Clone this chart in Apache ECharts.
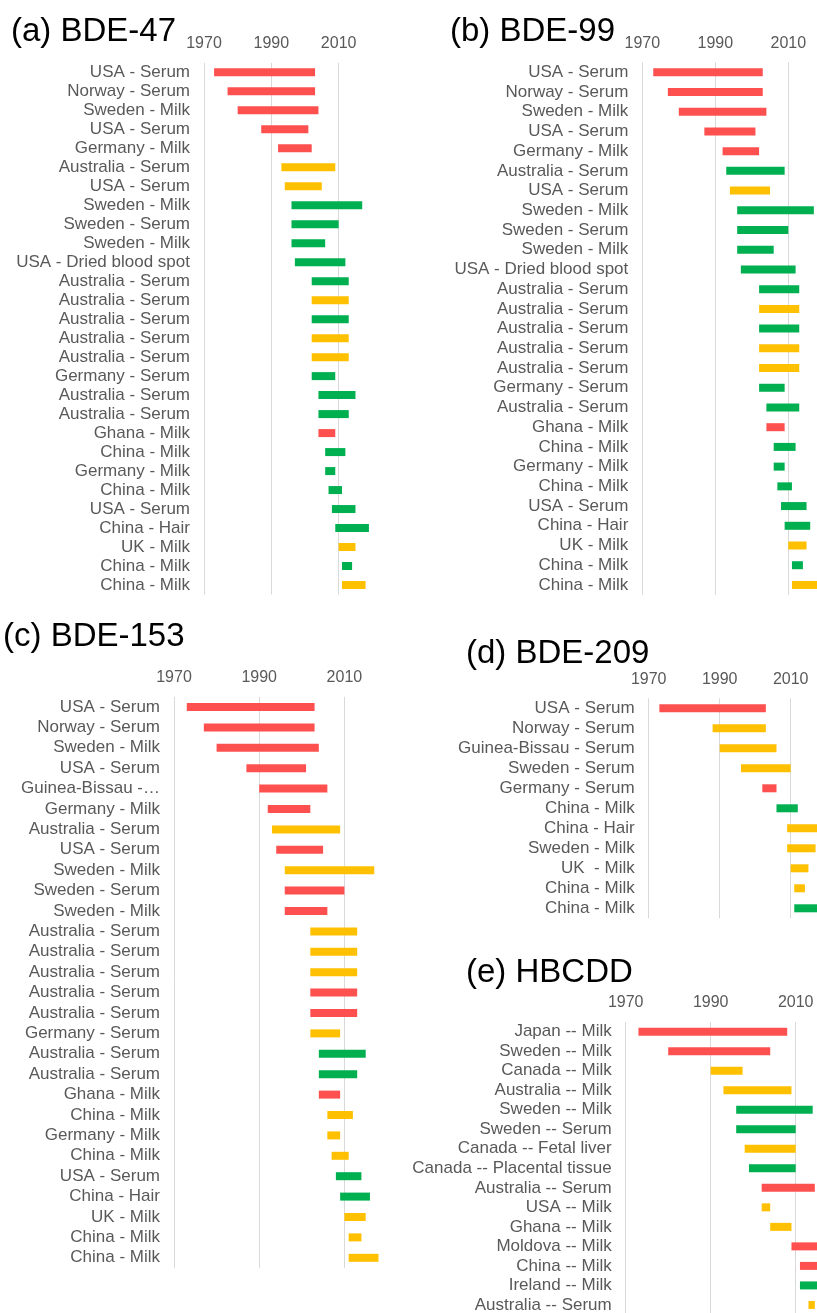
<!DOCTYPE html>
<html>
<head>
<meta charset="utf-8">
<script src="https://cdn.jsdelivr.net/npm/echarts@6/dist/echarts.min.js"></script>
<style>
  html, body { margin: 0; padding: 0; background: #fff; }
  #chart { width: 817px; height: 1313px; }
</style>
</head>
<body>
<div id="chart"></div>
<script>
// panel titles
const titles = ['(a) BDE-47', '(b) BDE-99', '(c) BDE-153', '(d) BDE-209', '(e) HBCDD'];
const yearTicks = [1970, 1990, 2010];

// (a) BDE-47
const aLabels = ['USA - Serum', 'Norway - Serum', 'Sweden - Milk', 'USA - Serum', 'Germany - Milk',
  'Australia - Serum', 'USA - Serum', 'Sweden - Milk', 'Sweden - Serum', 'Sweden - Milk',
  'USA - Dried blood spot', 'Australia - Serum', 'Australia - Serum', 'Australia - Serum',
  'Australia - Serum', 'Australia - Serum', 'Germany - Serum', 'Australia - Serum', 'Australia - Serum',
  'Ghana - Milk', 'China - Milk', 'Germany - Milk', 'China - Milk', 'USA - Serum', 'China - Hair',
  'UK - Milk', 'China - Milk', 'China - Milk'];
const aStart = [1973, 1977, 1980, 1987, 1992, 1993, 1994, 1996, 1996, 1996, 1997, 2002, 2002, 2002,
  2002, 2002, 2002, 2004, 2004, 2004, 2006, 2006, 2007, 2008, 2009, 2010, 2011, 2011];
const aEnd = [2003, 2003, 2004, 2001, 2002, 2009, 2005, 2017, 2010, 2006, 2012, 2013, 2013, 2013,
  2013, 2013, 2009, 2015, 2013, 2009, 2012, 2009, 2011, 2015, 2019, 2015, 2014, 2018];
const aColor = ['r', 'r', 'r', 'r', 'r', 'y', 'y', 'g', 'g', 'g', 'g', 'g', 'y', 'g',
  'y', 'y', 'g', 'g', 'g', 'r', 'g', 'g', 'g', 'g', 'g', 'y', 'g', 'y'];

// (b) BDE-99
const bLabels = ['USA - Serum', 'Norway - Serum', 'Sweden - Milk', 'USA - Serum', 'Germany - Milk',
  'Australia - Serum', 'USA - Serum', 'Sweden - Milk', 'Sweden - Serum', 'Sweden - Milk',
  'USA - Dried blood spot', 'Australia - Serum', 'Australia - Serum', 'Australia - Serum',
  'Australia - Serum', 'Australia - Serum', 'Germany - Serum', 'Australia - Serum', 'Ghana - Milk',
  'China - Milk', 'Germany - Milk', 'China - Milk', 'USA - Serum', 'China - Hair', 'UK - Milk',
  'China - Milk', 'China - Milk'];
const bStart = [1973, 1977, 1980, 1987, 1992, 1993, 1994, 1996, 1996, 1996, 1997, 2002, 2002, 2002,
  2002, 2002, 2002, 2004, 2004, 2006, 2006, 2007, 2008, 2009, 2010, 2011, 2011];
const bEnd = [2003, 2003, 2004, 2001, 2002, 2009, 2005, 2017, 2010, 2006, 2012, 2013, 2013, 2013,
  2013, 2013, 2009, 2013, 2009, 2012, 2009, 2011, 2015, 2016, 2015, 2014, 2018];
const bColor = ['r', 'r', 'r', 'r', 'r', 'g', 'y', 'g', 'g', 'g', 'g', 'g', 'y', 'g',
  'y', 'y', 'g', 'g', 'r', 'g', 'g', 'g', 'g', 'g', 'y', 'g', 'y'];

// (c) BDE-153
const cLabels = ['USA - Serum', 'Norway - Serum', 'Sweden - Milk', 'USA - Serum', 'Guinea-Bissau - Serum',
  'Germany - Milk', 'Australia - Serum', 'USA - Serum', 'Sweden - Milk', 'Sweden - Serum', 'Sweden - Milk',
  'Australia - Serum', 'Australia - Serum', 'Australia - Serum', 'Australia - Serum', 'Australia - Serum',
  'Germany - Serum', 'Australia - Serum', 'Australia - Serum', 'Ghana - Milk', 'China - Milk',
  'Germany - Milk', 'China - Milk', 'USA - Serum', 'China - Hair', 'UK - Milk', 'China - Milk', 'China - Milk'];
const cStart = [1973, 1977, 1980, 1987, 1990, 1992, 1993, 1994, 1996, 1996, 1996, 2002, 2002, 2002,
  2002, 2002, 2002, 2004, 2004, 2004, 2006, 2006, 2007, 2008, 2009, 2010, 2011, 2011];
const cEnd = [2003, 2003, 2004, 2001, 2006, 2002, 2009, 2005, 2017, 2010, 2006, 2013, 2013, 2013,
  2013, 2013, 2009, 2015, 2013, 2009, 2012, 2009, 2011, 2014, 2016, 2015, 2014, 2018];
const cColor = ['r', 'r', 'r', 'r', 'r', 'r', 'y', 'r', 'y', 'r', 'r', 'y', 'y', 'y',
  'r', 'r', 'y', 'g', 'g', 'r', 'y', 'y', 'y', 'g', 'g', 'y', 'y', 'y'];

// (d) BDE-209
const dLabels = ['USA - Serum', 'Norway - Serum', 'Guinea-Bissau - Serum', 'Sweden - Serum',
  'Germany - Serum', 'China - Milk', 'China - Hair', 'Sweden - Milk', 'UK  - Milk', 'China - Milk', 'China - Milk'];
const dStart = [1973, 1988, 1990, 1996, 2002, 2006, 2009, 2009, 2010, 2011, 2011];
const dEnd = [2003, 2003, 2006, 2010, 2006, 2012, 2018, 2017, 2015, 2014, 2018];
const dColor = ['r', 'y', 'y', 'y', 'r', 'g', 'y', 'y', 'y', 'y', 'g'];

// (e) HBCDD
const eLabels = ['Japan -- Milk', 'Sweden -- Milk', 'Canada -- Milk', 'Australia -- Milk', 'Sweden -- Milk',
  'Sweden -- Serum', 'Canada -- Fetal liver', 'Canada -- Placental tissue', 'Australia -- Serum',
  'USA -- Milk', 'Ghana -- Milk', 'Moldova -- Milk', 'China -- Milk', 'Ireland -- Milk', 'Australia -- Serum'];
const eStart = [1973, 1980, 1990, 1993, 1996, 1996, 1998, 1999, 2002, 2002, 2004, 2009, 2011, 2011, 2013];
const eEnd = [2008, 2004, 1997.5, 2009, 2014, 2010, 2010, 2010, 2014.5, 2004, 2009, 2016, 2016, 2016, 2014.5];
const eColor = ['r', 'r', 'y', 'y', 'g', 'g', 'y', 'g', 'r', 'y', 'y', 'r', 'r', 'g', 'y'];

const COLORS = { r: '#FF5050', y: '#FFC000', g: '#00B050' };
const FONT = 'Liberation Sans, Arial, sans-serif';

const panels = [
  { labels: aLabels, start: aStart, end: aEnd, color: aColor },
  { labels: bLabels, start: bStart, end: bEnd, color: bColor },
  { labels: cLabels, start: cStart, end: cEnd, color: cColor },
  { labels: dLabels, start: dStart, end: dEnd, color: dColor },
  { labels: eLabels, start: eStart, end: eEnd, color: eColor }
];

// plot areas (pixels) and title anchors
const layout = [
  { left: 204, top: 62.8, width: 168.3, height: 531.7, tx: 11, ty: 32 },
  { left: 642.3, top: 62.4, width: 182.5, height: 532.4, tx: 450, ty: 31.5 },
  { left: 174, top: 696.8, width: 213, height: 571.2, tx: 3, ty: 637 },
  { left: 648.7, top: 698.3, width: 177.5, height: 220, tx: 466, ty: 654 },
  { left: 625.7, top: 1021.9, width: 212.5, height: 292.8, tx: 466, ty: 972.5 }
];

const grid = [], xAxis = [], yAxis = [], series = [];
panels.forEach((p, i) => {
  const g = layout[i];
  grid.push({ left: g.left, top: g.top, width: g.width, height: g.height, outerBoundsMode: 'none', containLabel: false });
  xAxis.push({
    gridIndex: i, type: 'value', position: 'top',
    min: yearTicks[0], max: 2020, interval: yearTicks[1] - yearTicks[0],
    axisLine: { show: false }, axisTick: { show: false },
    axisLabel: {
      color: '#595959', fontSize: 16, fontFamily: FONT, margin: 11, showMaxLabel: false,
      formatter: v => String(v)
    },
    splitLine: { show: true, showMaxLine: false, lineStyle: { color: '#D9D9D9', width: 1 } }
  });
  yAxis.push({
    gridIndex: i, type: 'category', inverse: true, data: p.labels,
    axisLine: { show: false }, axisTick: { show: false },
    axisLabel: {
      interval: 0, color: '#595959', fontSize: 17, fontFamily: FONT, margin: 14,
      width: i === 2 ? 142 : undefined, overflow: i === 2 ? 'truncate' : 'none', ellipsis: '…'
    }
  });
  series.push({
    type: 'bar', xAxisIndex: i, yAxisIndex: i, stack: 'p' + i, barWidth: 8, silent: true,
    itemStyle: { color: 'rgba(0,0,0,0)' }, data: p.start
  });
  series.push({
    type: 'bar', xAxisIndex: i, yAxisIndex: i, stack: 'p' + i, barWidth: 8, silent: true,
    data: p.end.map((e, k) => ({ value: e - p.start[k], itemStyle: { color: COLORS[p.color[k]] } }))
  });
});

const chart = echarts.init(document.getElementById('chart'));
chart.setOption({
  animation: false,
  backgroundColor: '#fff',
  grid, xAxis, yAxis, series,
  graphic: titles.map((t, i) => ({
    type: 'text', x: layout[i].tx, y: layout[i].ty, silent: true,
    style: {
      text: t, fill: '#000', font: '33px Liberation Sans, Arial, sans-serif',
      align: 'left', verticalAlign: 'middle', textAlign: 'left', textVerticalAlign: 'middle'
    }
  }))
});
</script>
</body>
</html>
